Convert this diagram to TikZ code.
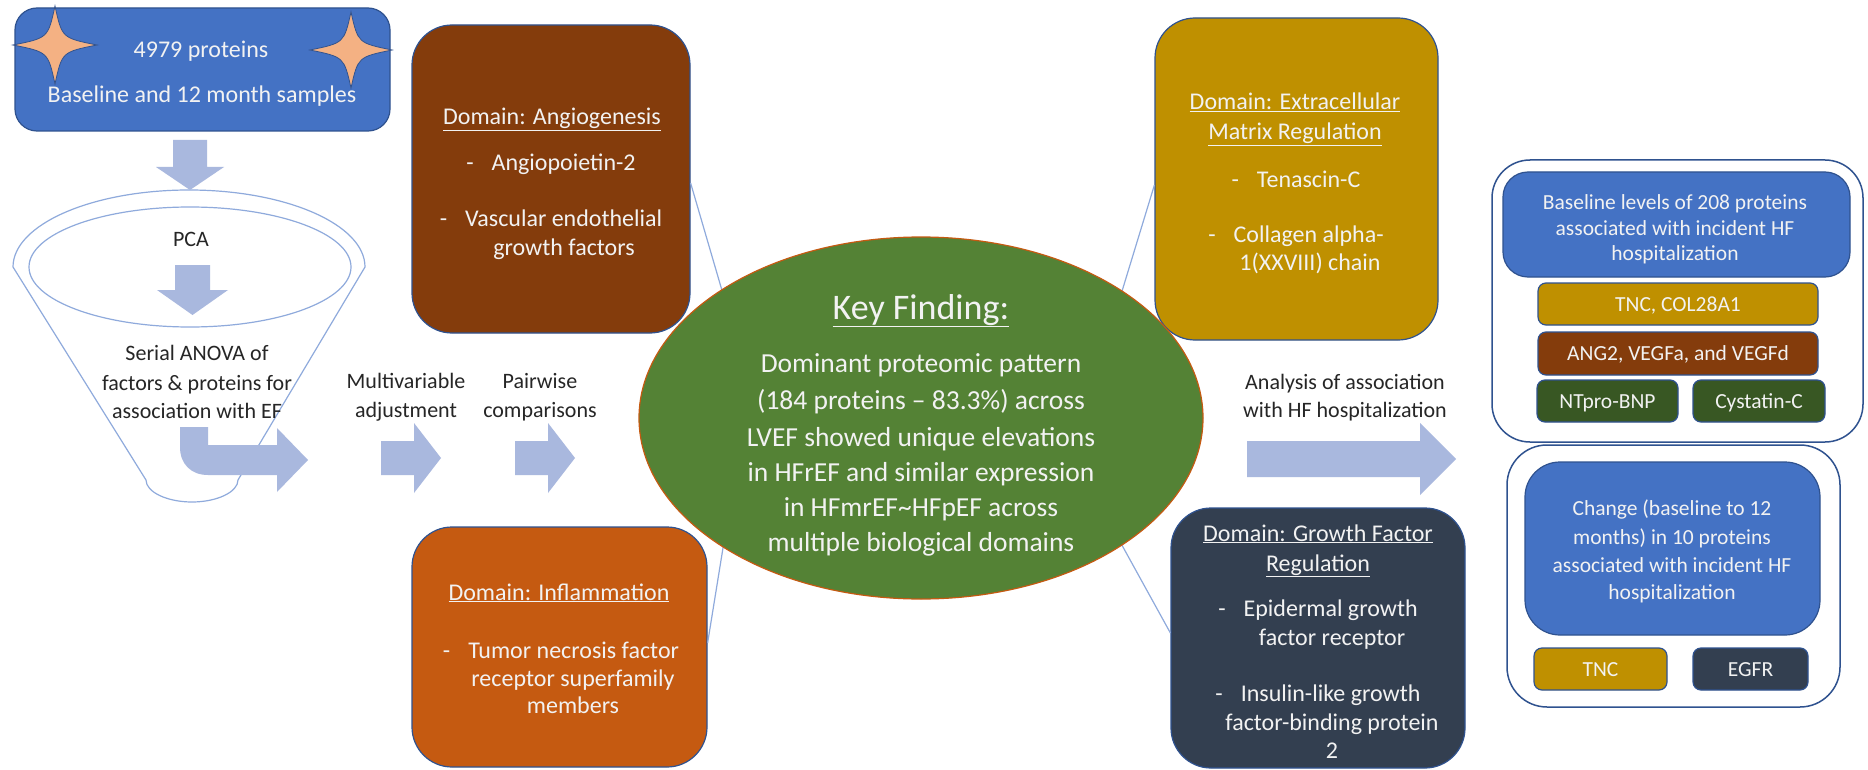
\documentclass[tikz,border=0pt]{standalone}
\usepackage{fontspec}
\setmainfont{Carlito}
\usetikzlibrary{shapes.geometric}
\definecolor{bluebox}{HTML}{4472C4}
\definecolor{bluedark}{HTML}{2F528F}
\definecolor{brownbox}{HTML}{843C0C}
\definecolor{orangebox}{HTML}{C55A11}
\definecolor{goldbox}{HTML}{BF9000}
\definecolor{slatebox}{HTML}{333F50}
\definecolor{greenell}{HTML}{548235}
\definecolor{dkgreen}{HTML}{385723}
\definecolor{arrowc}{HTML}{A9B8DE}
\definecolor{linec}{HTML}{8FAADC}
\definecolor{starc}{HTML}{F4B183}
\definecolor{txtw}{HTML}{F2F2F2}
\definecolor{txtb}{HTML}{262626}
\newcommand{\drawfourstar}[5]{%
  \draw[fill=starc, draw=bluedark, line width=0.8pt] (#2,#3-#5) .. controls (#2+7,#3-7) .. (#2+#4,#3) .. controls (#2+7,#3+7) .. (#2,#3+#5) .. controls (#2-7,#3+7) .. (#2-#4,#3) .. controls (#2-7,#3-7) .. cycle;%
  \coordinate (#1) at (#2,#3);}
\begin{document}
\begin{tikzpicture}[x=1pt,y=-1pt,
  wt/.style={text=txtw, font=\fontsize{24}{29}\selectfont, inner sep=0pt, anchor=base},
  bt/.style={text=txtb, font=\fontsize{22}{27}\selectfont, inner sep=0pt, anchor=base},
  rt/.style={text=txtw, font=\fontsize{21.5}{25}\selectfont, inner sep=0pt, anchor=base},
  kt/.style={text=txtw, font=\fontsize{27.5}{33}\selectfont, inner sep=0pt, anchor=base},
  ktitle/.style={text=txtw, font=\fontsize{36}{42}\selectfont, inner sep=0pt, anchor=base},
  domainbox/.style={draw=bluedark, line width=1.2pt, rounded corners=40pt, inner sep=0pt},
  smallbox/.style={draw=bluedark, line width=1.2pt, rounded corners=8pt, inner sep=0pt},
  panel/.style={draw=bluedark, line width=1.5pt, fill=white, inner sep=0pt},
  blockarrow/.style={fill=arrowc, draw=none},
  tail/.style={draw=linec, line width=1.2pt}
]
\useasboundingbox (0,0) rectangle (1868,770);
\fill[white] (0,0) rectangle (1868,770);

% ---------- funnel ----------
\draw[linec, line width=1.2pt] (13,267) .. controls (13,224.5) and (92,190) .. (189,190) .. controls (286,190) and (365,224.5) .. (365,267) -- (238,480) .. controls (238,492) and (217,502) .. (192,502) .. controls (167,502) and (146,492) .. (146,480) -- cycle;
\node[draw=linec, line width=1.2pt, ellipse, minimum width=322pt, minimum height=120pt, inner sep=0pt] (pcaell) at (190,267) {};

% ---------- top box ----------
\node[domainbox, fill=bluebox, rounded corners=22pt, minimum width=375pt, minimum height=123pt] (topbox) at (202.5,69.5) {};
\drawfourstar{starl}{55}{45}{42}{39}
\drawfourstar{starr}{351}{50}{41}{38}
\node[wt] (t1) at (201,58) {4979 proteins};
\node[wt] (t2) at (202,103) {Baseline and 12 month samples};

% ---------- block arrows ----------
\fill[blockarrow] (173,140) -- (207,140) -- (207,167) -- (224,167) -- (190,190) -- (156,167) -- (173,167) -- cycle;
\fill[blockarrow] (175,265) -- (210,265) -- (210,290) -- (228,290) -- (192.5,315) -- (157,290) -- (175,290) -- cycle;
\fill[blockarrow] (180,427) -- (208,427) -- (208,445) -- (277,445) -- (277,428) -- (308,460) -- (277,492) -- (277,475) -- (208,475) .. controls (191,475) and (180,464) .. (180,447) -- cycle;
\fill[blockarrow] (381,441) -- (414,441) -- (414,423) -- (441,458) -- (414,493) -- (414,475) -- (381,475) -- cycle;
\fill[blockarrow] (515,441) -- (548,441) -- (548,423) -- (575,458) -- (548,493) -- (548,475) -- (515,475) -- cycle;
\fill[blockarrow] (1247,441) -- (1420,441) -- (1420,423) -- (1456,459) -- (1420,495) -- (1420,477) -- (1247,477) -- cycle;

% ---------- flow texts ----------
\node[bt] (pca) at (191,247) {PCA};
\node[bt] (an1) at (197,360) {Serial ANOVA of};
\node[bt] (an2) at (197,390) {factors \& proteins for};
\node[bt] (an3) at (197,418) {association with EF};
\node[bt] (mv1) at (406,388) {Multivariable};
\node[bt] (mv2) at (406,417) {adjustment};
\node[bt] (pw1) at (540,388) {Pairwise};
\node[bt] (pw2) at (540,417) {comparisons};
\node[bt] (ha1) at (1345,389) {Analysis of association};
\node[bt] (ha2) at (1345,417) {with HF hospitalization};

% ---------- domain boxes ----------
\node[domainbox, fill=brownbox, minimum width=278pt, minimum height=308pt] (angio) at (551,179) {};
\node[domainbox, fill=orangebox, minimum width=295pt, minimum height=240pt] (infl) at (559.5,647) {};
\node[domainbox, fill=goldbox, minimum width=283pt, minimum height=322pt] (ecm) at (1296.5,179) {};
\node[domainbox, fill=slatebox, minimum width=294pt, minimum height=260pt] (growth) at (1318,638) {};

% ---------- connector tails ----------
\coordinate (tA) at (735,335);
\coordinate (tI) at (734,480);
\coordinate (tE) at (1101,360);
\coordinate (tG) at (1086,480);
\draw[tail] (angio.east |- 0,183) -- (tA);
\draw[tail] (infl.east |- 0,643) -- (tI);
\draw[tail] (ecm.west |- 0,185) -- (tE);
\draw[tail] (growth.west |- 0,633) -- (tG);

% ---------- key finding ----------
\node[ellipse, fill=greenell, draw=orangebox, line width=1.2pt, minimum width=564pt, minimum height=362pt, inner sep=0pt] (key) at (921,418) {};
\node[ktitle] (k0) at (921,319) {\underline{Key Finding:}};
\node[kt] (k1) at (921,372) {Dominant proteomic pattern};
\node[kt] (k2) at (921,409) {(184 proteins -- 83.3\%) across};
\node[kt] (k3) at (921,446) {LVEF showed unique elevations};
\node[kt] (k4) at (921,481) {in HFrEF and similar expression};
\node[kt] (k5) at (921,516) {in HFmrEF\textasciitilde HFpEF across};
\node[kt] (k6) at (921,551) {multiple biological domains};

% ---------- domain texts ----------
\node[wt] (a0) at (552,125) {\underline{Domain: Angiogenesis}};
\node[wt] (a1) at (551,171) {-\hspace{18pt}Angiopoietin-2};
\node[wt] (a2) at (551,226) {-\hspace{18pt}Vascular endothelial};
\node[wt] (a3) at (564,255) {growth factors};

\node[wt] (i0) at (559,600) {\underline{Domain: Inflammation}};
\node[wt] (i1) at (561,658) {-\hspace{18pt}Tumor necrosis factor};
\node[wt] (i2) at (573,686) {receptor superfamily};
\node[wt] (i3) at (573,713) {members};

\node[wt] (e0) at (1295,110) {\underline{Domain: Extracellular}};
\node[wt] (e1) at (1295,140) {\underline{Matrix Regulation}};
\node[wt] (e2) at (1296,188) {-\hspace{18pt}Tenascin-C};
\node[wt] (e3) at (1296,243) {-\hspace{18pt}Collagen alpha-};
\node[wt] (e4) at (1310,270) {1(XXVIII) chain};

\node[wt] (g0) at (1318,541) {\underline{Domain: Growth Factor}};
\node[wt] (g1) at (1318,571) {\underline{Regulation}};
\node[wt] (g2) at (1318,616) {-\hspace{18pt}Epidermal growth};
\node[wt] (g3) at (1332,645) {factor receptor};
\node[wt] (g4) at (1318,701) {-\hspace{18pt}Insulin-like growth};
\node[wt] (g5) at (1332,730) {factor-binding protein};
\node[wt] (g6) at (1332,758) {2};

% ---------- right panels ----------
\node[panel, rounded corners=38pt, minimum width=371pt, minimum height=282pt] (panA) at (1677.5,301) {};
\node[domainbox, fill=bluebox, rounded corners=25pt, minimum width=347pt, minimum height=105pt] (baseA) at (1676.5,224.5) {};
\node[rt] (b1) at (1675,210) {Baseline levels of 208 proteins};
\node[rt] (b2) at (1675,235) {associated with incident HF};
\node[rt] (b3) at (1675,260) {hospitalization};
\node[smallbox, fill=goldbox, minimum width=280pt, minimum height=42pt] (tncA) at (1678,304) {};
\node[rt] at (tncA.center) [yshift=-7pt] (tncAt) {TNC, COL28A1};
\node[smallbox, fill=brownbox, minimum width=280pt, minimum height=43pt] (angA) at (1678,353.5) {};
\node[rt] at (angA.center) [yshift=-7pt] (angAt) {ANG2, VEGFa, and VEGFd};
\node[smallbox, fill=dkgreen, minimum width=141pt, minimum height=42pt] (ntA) at (1607.5,401) {};
\node[rt] at (ntA.center) [yshift=-7pt] (ntAt) {NTpro-BNP};
\node[smallbox, fill=dkgreen, minimum width=132pt, minimum height=42pt] (cyA) at (1759,401) {};
\node[rt] at (cyA.center) [yshift=-7pt] (cyAt) {Cystatin-C};

\node[panel, rounded corners=40pt, minimum width=333pt, minimum height=262pt] (panB) at (1673.5,576) {};
\node[domainbox, fill=bluebox, rounded corners=35pt, minimum width=295pt, minimum height=173pt] (chgB) at (1672.5,548.5) {};
\node[rt] (c1) at (1672,515) {Change (baseline to 12};
\node[rt] (c2) at (1672,544) {months) in 10 proteins};
\node[rt] (c3) at (1672,572) {associated with incident HF};
\node[rt] (c4) at (1672,599) {hospitalization};
\node[smallbox, fill=goldbox, minimum width=133pt, minimum height=42pt] (tncB) at (1600.5,669) {};
\node[rt] at (tncB.center) [yshift=-7pt] (tncBt) {TNC};
\node[smallbox, fill=slatebox, minimum width=115pt, minimum height=42pt] (egB) at (1750.5,669) {};
\node[rt] at (egB.center) [yshift=-7pt] (egBt) {EGFR};
\end{tikzpicture}
\end{document}
